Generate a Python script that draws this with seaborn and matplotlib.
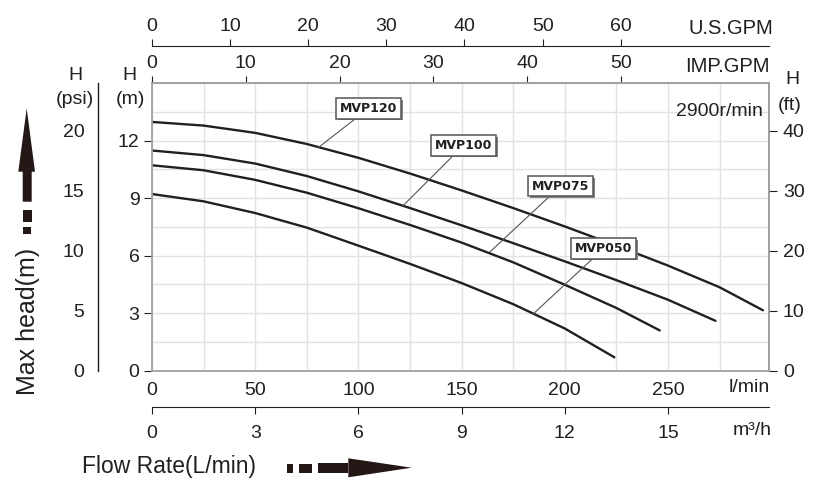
import matplotlib
matplotlib.use("Agg")
import matplotlib.pyplot as plt
import matplotlib.patheffects as pe
from matplotlib.patches import Polygon
from matplotlib.ticker import MultipleLocator
import pandas as pd
import seaborn as sns

# pump curves: flow in l/min, head in m
mvp120_flow = [0, 25, 50, 75, 100, 125, 150, 175, 200, 225, 250, 275, 296]
mvp120_head = [12.97, 12.78, 12.4, 11.82, 11.1, 10.28, 9.4, 8.48, 7.52, 6.52, 5.48, 4.35, 3.15]
mvp100_flow = [0, 25, 50, 75, 100, 125, 150, 175, 200, 225, 250, 273]
mvp100_head = [11.48, 11.24, 10.8, 10.15, 9.35, 8.48, 7.58, 6.65, 5.7, 4.72, 3.7, 2.6]
mvp075_flow = [0, 25, 50, 75, 100, 125, 150, 175, 200, 225, 246]
mvp075_head = [10.71, 10.45, 9.95, 9.28, 8.47, 7.6, 6.68, 5.65, 4.48, 3.27, 2.1]
mvp050_flow = [0, 25, 50, 75, 100, 125, 150, 175, 200, 224]
mvp050_head = [9.21, 8.83, 8.22, 7.46, 6.52, 5.57, 4.57, 3.47, 2.2, 0.7]

models = ["MVP120", "MVP100", "MVP075", "MVP050"]

lmin_ticks = [0, 50, 100, 150, 200, 250]
m3h_ticks = [0, 3, 6, 9, 12, 15]
usgpm_ticks = [0, 10, 20, 30, 40, 50, 60]
impgpm_ticks = [0, 10, 20, 30, 40, 50]
head_m_ticks = [0, 3, 6, 9, 12]
psi_ticks = [0, 5, 10, 15, 20]
ft_ticks = [0, 10, 20, 30, 40]

# where the model tags sit, and where their leader lines touch the curve
tag_xy = [(104.9, 13.67), (150.9, 11.75), (197.9, 9.62), (218.9, 6.38)]
leader_xy = [(80.4, 11.62), (121.6, 8.6), (163.8, 6.2), (184.6, 2.95)]

curves = pd.concat([
    pd.DataFrame({"flow": mvp120_flow, "head": mvp120_head, "model": "MVP120"}),
    pd.DataFrame({"flow": mvp100_flow, "head": mvp100_head, "model": "MVP100"}),
    pd.DataFrame({"flow": mvp075_flow, "head": mvp075_head, "model": "MVP075"}),
    pd.DataFrame({"flow": mvp050_flow, "head": mvp050_head, "model": "MVP050"}),
])

sns.set_style("white")
plt.rcParams["font.family"] = ["Liberation Sans", "DejaVu Sans"]

INK = "#231f20"
FRAME = "#a0a0a0"
W, H = 835, 490

fig = plt.figure(figsize=(8.35, 4.9), dpi=100)


def fx(x):
    return x / W


def fy(y):
    return 1 - y / H


def ftext(x, y, s, **kw):
    kw.setdefault("fontsize", 14)
    kw.setdefault("color", INK)
    fig.text(fx(x), fy(y), s, **kw)


ax_left, ax_right, ax_top, ax_bot = 152, 769, 83, 370.7
ax = fig.add_axes([fx(ax_left), fy(ax_bot), (ax_right - ax_left) / W, (ax_bot - ax_top) / H])

for m in models:
    sns.lineplot(data=curves[curves["model"] == m], x="flow", y="head", ax=ax,
                 color=INK, lw=1.7, sort=False)

ax.set_xlim(0, (ax_right - ax_left) / 2.064)
ax.set_ylim(0, 15)
ax.set_xlabel("")
ax.set_ylabel("")
ax.set_xticks(lmin_ticks)
ax.set_yticks(head_m_ticks)
ax.xaxis.set_minor_locator(MultipleLocator(25))
ax.yaxis.set_minor_locator(MultipleLocator(1.5))
ax.grid(True, which="both", color="#e2e2e2", lw=1)
ax.set_axisbelow(True)
ax.tick_params(which="minor", length=0)
ax.tick_params(axis="x", which="major", direction="out", length=4, width=0.8,
               color=INK, labelcolor=INK, labelsize=14, pad=4)
ax.tick_params(axis="y", which="major", direction="out", length=6, width=0.8,
               color=INK, labelcolor=INK, labelsize=14, pad=3)
for s in ax.spines.values():
    s.set_color(FRAME)
    s.set_linewidth(1.3)

# flow in other units
m3h = ax.secondary_xaxis(-(407 - ax_bot) / (ax_bot - ax_top),
                         functions=(lambda q: q * 0.06, lambda v: v / 0.06))
m3h.set_xticks(m3h_ticks)
m3h.tick_params(direction="out", length=5, width=0.8, color=INK,
                labelcolor=INK, labelsize=14, pad=8)
m3h.spines["bottom"].set_color(INK)

imp = ax.secondary_xaxis("top", functions=(lambda q: q / 4.546, lambda g: g * 4.546))
imp.set_xticks(impgpm_ticks)
imp.tick_params(direction="out", length=5, width=0.8, color=INK,
                labelcolor=INK, labelsize=14, pad=3)
imp.spines["top"].set_color(FRAME)
imp.spines["top"].set_linewidth(1.3)

usg = ax.secondary_xaxis(1 + (ax_top - 46) / (ax_bot - ax_top),
                         functions=(lambda q: q / 3.785, lambda g: g * 3.785))
usg.set_xticks(usgpm_ticks)
usg.tick_params(direction="out", length=5, width=0.8, color=INK,
                labelcolor=INK, labelsize=14, pad=3)
usg.spines["top"].set_color(INK)

# head in feet on the right
ax_ft = ax.twinx()
ax_ft.set_ylim(0, 48)
ax_ft.set_yticks(ft_ticks)
ax_ft.tick_params(direction="out", length=6, width=0.8, color=INK,
                  labelcolor=INK, labelsize=14, pad=4)
for k, s in ax_ft.spines.items():
    s.set_visible(k == "right")
ax_ft.spines["right"].set_color(FRAME)
ax_ft.spines["right"].set_linewidth(1.3)
ax_ft.grid(False)

# head in psi on a separate spine to the left
ax_psi = fig.add_axes([fx(98.3), fy(ax_bot), 0.0005, (ax_bot - ax_top) / H])
ax_psi.patch.set_visible(False)
ax_psi.set_ylim(0, 24)
ax_psi.set_yticks(psi_ticks)
ax_psi.yaxis.set_minor_locator(MultipleLocator(2.5))
ax_psi.set_xticks([])
ax_psi.grid(False)
for k, s in ax_psi.spines.items():
    s.set_visible(k == "left")
ax_psi.spines["left"].set_color(INK)
ax_psi.spines["left"].set_linewidth(1)
ax_psi.tick_params(axis="y", which="major", direction="out", length=9, width=0.8,
                   color=INK, labelcolor=INK, labelsize=14, pad=1)
ax_psi.tick_params(axis="y", which="minor", direction="out", length=4, width=0.8,
                   color=INK)

# model tags
for m, txy, lxy in zip(models, tag_xy, leader_xy):
    a = ax.annotate(m, xy=lxy, xytext=txy, textcoords="data", ha="center", va="center",
                    fontsize=9, fontweight="bold", family="DejaVu Sans", color=INK,
                    bbox=dict(boxstyle="square,pad=0.3", fc="white", ec="#555555", lw=1.1),
                    arrowprops=dict(arrowstyle="-", color="#555555", lw=0.8,
                                    shrinkA=0, shrinkB=0))
    a.get_bbox_patch().set_path_effects(
        [pe.withSimplePatchShadow(offset=(1.2, -1.2), shadow_rgbFace="#777777", alpha=0.9)])

# unit captions
ftext(773, 28, "U.S.GPM", ha="right", va="center", fontsize=14.5)
ftext(770, 67, "IMP.GPM", ha="right", va="center", fontsize=14.5)
ftext(770, 388, "l/min", ha="right", va="center")
ftext(772, 430, "m³/h", ha="right", va="center")
ftext(75, 76, "H", ha="center", va="center")
ftext(75, 100, "(psi)", ha="center", va="center")
ftext(129, 76, "H", ha="center", va="center")
ftext(130, 100, "(m)", ha="center", va="center")
ftext(792, 80, "H", ha="center", va="center")
ftext(790, 105, "(ft)", ha="center", va="center")
ftext(763, 112, "2900r/min", ha="right", va="center")
ftext(27.5, 321, "Max head(m)", ha="center", va="center", rotation=90, fontsize=18)
ftext(82, 466, "Flow Rate(L/min)", ha="left", va="center", fontsize=16.5)

# decorative arrows
ARROW = "#231815"


def fpoly(pts):
    fig.add_artist(Polygon([(fx(x), fy(y)) for x, y in pts], closed=True,
                           transform=fig.transFigure, fc=ARROW, ec="none"))


def frect(x0, y0, x1, y1):
    fpoly([(x0, y0), (x1, y0), (x1, y1), (x0, y1)])


fpoly([(22.7, 201.7), (31.7, 201.7), (31.7, 171.7), (35, 171.7), (26.7, 108.3),
       (18.3, 171.7), (22.7, 171.7)])
frect(22.7, 210, 31.7, 221.7)
frect(23.3, 226.7, 31, 234)

frect(287.3, 464, 293.3, 472.7)
frect(299.3, 464, 311.7, 472.7)
frect(318.3, 462.7, 348.3, 473.3)
fpoly([(348.3, 458.3), (348.3, 477.3), (411.7, 467.7)])

fig.savefig("out.png", dpi=100)
